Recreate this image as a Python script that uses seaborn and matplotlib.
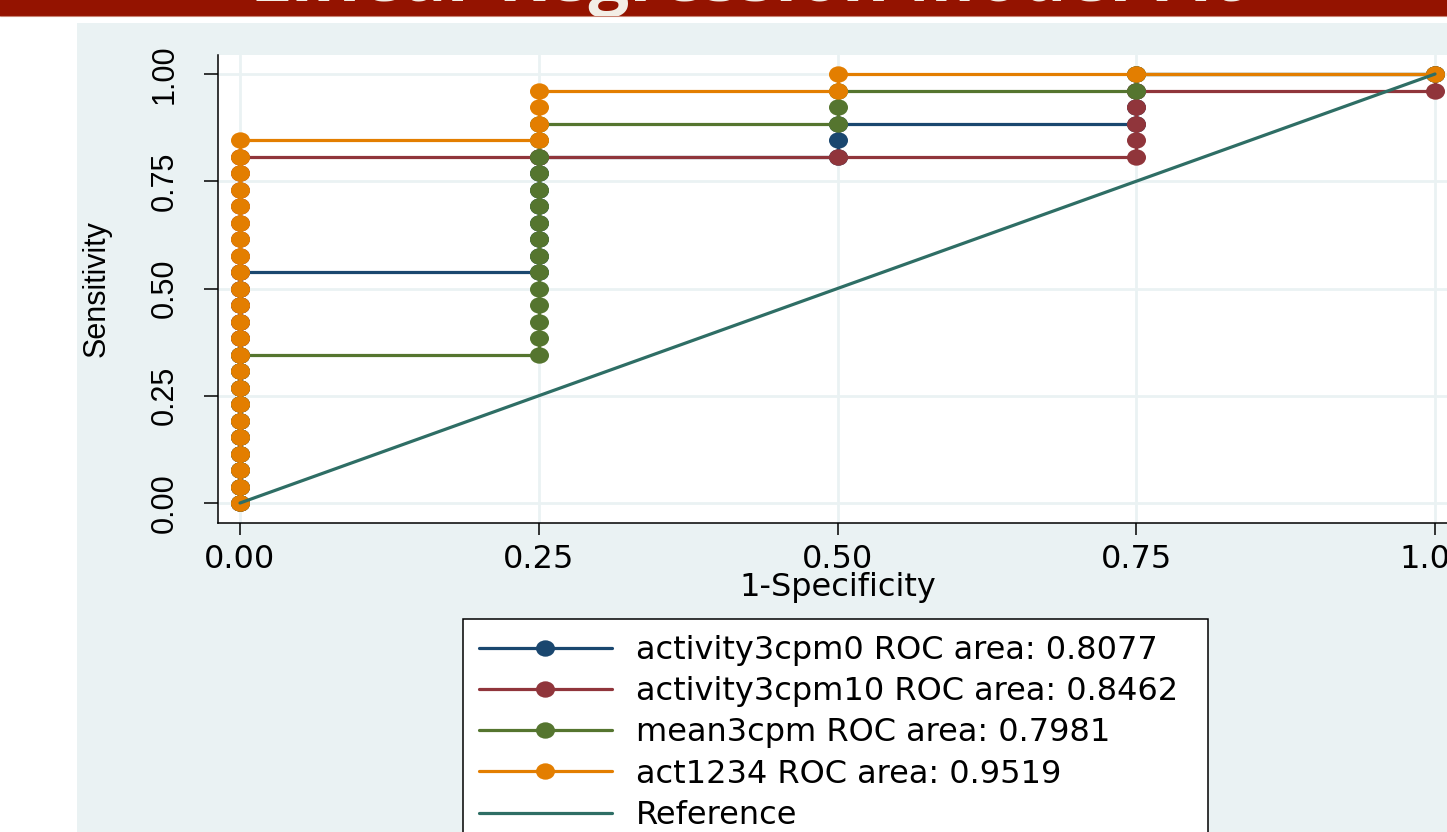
import numpy as np
import pandas as pd
import matplotlib
matplotlib.use('agg')
import matplotlib.pyplot as plt
import seaborn as sns
from matplotlib.path import Path
from matplotlib.transforms import Affine2D
from matplotlib.patches import Rectangle
from matplotlib.lines import Line2D

W, H = 1447, 832
N_POS = 26  # positive cases: sensitivity = tp / 26

# ROC points: 1-specificity and true-positive counts, in drawing order
act0_fpr = [0, 0, 0, 0, 0, 0, 0, 0, 0, 0, 0, 0, 0, 0, 0,
            0.25, 0.25, 0.25, 0.25, 0.25, 0.25, 0.25, 0.25,
            0.5, 0.5, 0.5, 0.75, 0.75, 0.75, 0.75, 1]
act0_tp = [0, 1, 2, 3, 4, 5, 6, 7, 8, 9, 10, 11, 12, 13, 14,
           14, 15, 16, 17, 18, 19, 20, 21,
           21, 22, 23, 23, 24, 25, 26, 26]

act10_fpr = [0, 0, 0, 0, 0, 0, 0, 0, 0, 0, 0, 0, 0, 0, 0, 0, 0, 0, 0, 0, 0, 0,
             0.25, 0.5, 0.75, 0.75, 0.75, 0.75, 0.75, 1, 1]
act10_tp = [0, 1, 2, 3, 4, 5, 6, 7, 8, 9, 10, 11, 12, 13, 14, 15, 16, 17, 18, 19, 20, 21,
            21, 21, 21, 22, 23, 24, 25, 25, 26]

mean_fpr = [0, 0, 0, 0, 0, 0, 0, 0, 0, 0,
            0.25, 0.25, 0.25, 0.25, 0.25, 0.25, 0.25, 0.25, 0.25, 0.25, 0.25, 0.25, 0.25, 0.25, 0.25,
            0.5, 0.5, 0.5, 0.75, 0.75, 1]
mean_tp = [0, 1, 2, 3, 4, 5, 6, 7, 8, 9,
           9, 10, 11, 12, 13, 14, 15, 16, 17, 18, 19, 20, 21, 22, 23,
           23, 24, 25, 25, 26, 26]

act1234_fpr = [0, 0, 0, 0, 0, 0, 0, 0, 0, 0, 0, 0, 0, 0, 0, 0, 0, 0, 0, 0, 0, 0, 0,
               0.25, 0.25, 0.25, 0.25, 0.5, 0.5, 0.75, 1]
act1234_tp = [0, 1, 2, 3, 4, 5, 6, 7, 8, 9, 10, 11, 12, 13, 14, 15, 16, 17, 18, 19, 20, 21, 22,
              22, 23, 24, 25, 25, 26, 26, 26]

ref_x = [0, 1]
ref_y = [0, 1]

series_names = ["activity3cpm0", "activity3cpm10", "mean3cpm", "act1234"]
roc_areas = [0.8077, 0.8462, 0.7981, 0.9519]
series_fpr = [act0_fpr, act10_fpr, mean_fpr, act1234_fpr]
series_tp = [act0_tp, act10_tp, mean_tp, act1234_tp]
colors = ["#1A476F", "#90353B", "#55752F", "#E37E00"]
ref_color = "#2E6E65"
panel_color = "#EAF2F3"


def fx(px):
    return px / W


def fy(py):
    return 1 - py / H


sns.set_style("white")
plt.rcParams['font.family'] = ['DejaVu Sans']
plt.rcParams['text.color'] = 'black'
plt.rcParams['axes.labelcolor'] = 'black'
plt.rcParams['xtick.color'] = 'black'
plt.rcParams['ytick.color'] = 'black'

fig = plt.figure(figsize=(W / 100, H / 100), dpi=100)
fig.patch.set_facecolor('white')

# slide banner + stata graph region
banner = Rectangle((0, fy(16)), 1, 16 / H, transform=fig.transFigure,
                   facecolor='#941300', edgecolor='none', zorder=-5)
fig.add_artist(banner)
fig.add_artist(Line2D([0, 1], [fy(16.3), fy(16.3)], transform=fig.transFigure,
                      color='#C98474', lw=0.8, zorder=-4))
title = fig.text(fx(747), fy(1), "Linear Regression Model Fit", ha='center', va='baseline',
                 color='#F3EEE6', fontsize=52, fontweight='bold', family='Open Sans',
                 zorder=-3)
title.set_clip_path(banner)
fig.add_artist(Rectangle((fx(77), 0), 1 - fx(77), fy(23), transform=fig.transFigure,
                         facecolor=panel_color, edgecolor='none', zorder=-5))

ax = fig.add_axes([fx(218), fy(522.7), (1457 - 218) / W, (522.7 - 55) / H])
ax.set_facecolor('white')

ellipse = Path.unit_circle().transformed(Affine2D().scale(1, 0.86))
mk = dict(marker=ellipse, markersize=13.7, markeredgewidth=0, lw=2.3)

for name, fpr, tp, c in zip(series_names, series_fpr, series_tp, colors):
    df = pd.DataFrame({"fpr": fpr, "sens": np.array(tp) / N_POS})
    sns.lineplot(data=df, x="fpr", y="sens", sort=False, estimator=None,
                 color=c, markerfacecolor=c, ax=ax, legend=False, **mk)

sns.lineplot(x=ref_x, y=ref_y, color=ref_color, lw=2.3, ax=ax, legend=False)

ax.set_xlim(-0.0184, 1.0184)
ax.set_ylim(-0.0459, 1.0443)
ticks = [0, 0.25, 0.5, 0.75, 1]
ax.set_xticks(ticks)
ax.set_yticks(ticks)
ax.set_xticklabels([f"{t:.2f}" for t in ticks])
ax.set_yticklabels([f"{t:.2f}" for t in ticks], rotation=90, va='center',
                   family='Liberation Sans', fontsize=22)
ax.grid(True, color=panel_color, lw=2)
ax.set_axisbelow(True)
for s in ['top', 'right']:
    ax.spines[s].set_visible(False)
for s in ['left', 'bottom']:
    ax.spines[s].set_color('black')
    ax.spines[s].set_linewidth(1.1)
ax.tick_params(axis='x', direction='out', length=8.6, width=1.1, pad=6.5,
               labelsize=23, colors='black', bottom=True)
ax.tick_params(axis='y', direction='out', length=10, width=1.1, pad=17.5,
               colors='black', left=True)

ax.set_xlabel("1-Specificity", fontsize=23)
ax.xaxis.set_label_coords(0.5, -0.1045)
ax.set_ylabel("Sensitivity", fontsize=22, family='Liberation Sans')
ax.yaxis.set_label_coords(-0.086, 0.5)

# legend box (runs off the bottom of the slide)
fig.add_artist(Rectangle((fx(463), -0.05), fx(1208) - fx(463), fy(619) + 0.05,
                         transform=fig.transFigure, facecolor='white',
                         edgecolor='black', lw=1.1, zorder=1))
handles = [Line2D([], [], color=c, markerfacecolor=c, **mk) for c in colors]
handles.append(Line2D([], [], color=ref_color, lw=2.3))
labels = [f"{n} ROC area: {a:.4f}" for n, a in zip(series_names, roc_areas)]
labels.append("Reference")
leg = fig.legend(handles, labels, loc='upper left', bbox_to_anchor=(fx(463), fy(619)),
                 frameon=False, fontsize=23, numpoints=1, handlelength=4.16,
                 handletextpad=0.75, borderpad=0.5, borderaxespad=0, labelspacing=0.32)
leg.set_zorder(2)

fig.savefig("out.png", dpi=100, facecolor='white')
